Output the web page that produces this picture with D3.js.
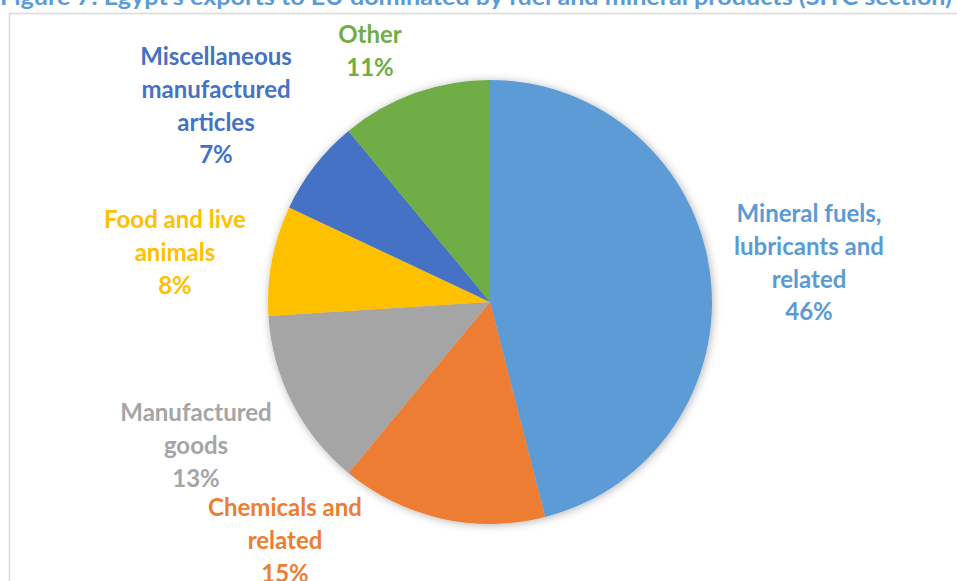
<!DOCTYPE html>
<html>
<head>
<meta charset="utf-8">
<script src="https://cdn.jsdelivr.net/npm/d3@7"></script>
<style>
  html, body { margin: 0; padding: 0; background: #fff; }
  svg { display: block; }
</style>
</head>
<body>
<svg id="chart" width="957" height="581"></svg>
<script>
// SITC sections of exports, share in percent
const categories = [
  "Mineral fuels, lubricants and related",
  "Chemicals and related",
  "Manufactured goods",
  "Food and live animals",
  "Miscellaneous manufactured articles",
  "Other"
];
const shares = [46, 15, 13, 8, 7, 11];

// Wrapped label lines for each section
const labelLines = [
  ["Mineral fuels,", "lubricants and", "related"],
  ["Chemicals and", "related"],
  ["Manufactured", "goods"],
  ["Food and live", "animals"],
  ["Miscellaneous", "manufactured", "articles"],
  ["Other"]
];

const palette = ["#5B9BD5", "#ED7D31", "#A5A5A5", "#FFC000", "#4472C4", "#70AD47"];

// Label anchors (text centre x, first baseline y), in page pixels
const labelAnchor = [
  [809, 222],
  [285, 516],
  [196, 421],
  [175, 228],
  [216, 65],
  [370, 43]
];

const titleText = "Figure 7: Egypt's exports to EU dominated by fuel and mineral products (SITC section)";

const svg = d3.select("#chart");
const cx = 490, cy = 302, radius = 222;
const lineH = 32.8;
const font = "Lato, 'Open Sans', sans-serif";

// Title, clipped at the top of the page
svg.append("text")
  .attr("x", 0)
  .attr("y", 5)
  .attr("textLength", 952)
  .attr("lengthAdjust", "spacingAndGlyphs")
  .attr("font-family", font)
  .attr("font-weight", 700)
  .attr("font-size", 22)
  .attr("fill", "#5B9BD5")
  .text(titleText);

// Chart area frame
svg.append("rect")
  .attr("x", 9.5).attr("y", 13.5)
  .attr("width", 1000).attr("height", 1000)
  .attr("fill", "#fff")
  .attr("stroke", "#D9D9D9")
  .attr("stroke-width", 1.5);

const defs = svg.append("defs");
const shadow = defs.append("filter")
  .attr("id", "soft")
  .attr("x", "-20%").attr("y", "-20%")
  .attr("width", "140%").attr("height", "140%");
shadow.append("feDropShadow")
  .attr("dx", 1).attr("dy", 1)
  .attr("stdDeviation", 4)
  .attr("flood-color", "#000")
  .attr("flood-opacity", 0.3);

const data = categories.map((c, i) => ({
  name: c, value: shares[i], color: palette[i],
  lines: labelLines[i].concat([shares[i] + "%"]),
  anchor: labelAnchor[i]
}));

const pie = d3.pie().value(d => d.value).sort(null);
const arc = d3.arc().innerRadius(0).outerRadius(radius);

const g = svg.append("g")
  .attr("transform", `translate(${cx},${cy})`)
  .attr("filter", "url(#soft)");

g.selectAll("path")
  .data(pie(data))
  .join("path")
  .attr("d", arc)
  .attr("fill", d => d.data.color);

// Data labels
const labels = svg.append("g")
  .attr("font-family", font)
  .attr("font-weight", 700)
  .attr("font-size", 24)
  .attr("text-anchor", "middle");

data.forEach(d => {
  const t = labels.append("text")
    .attr("fill", d.color)
    .attr("x", d.anchor[0])
    .attr("y", d.anchor[1]);
  d.lines.forEach((ln, j) => {
    t.append("tspan")
      .attr("x", d.anchor[0])
      .attr("dy", j === 0 ? 0 : lineH)
      .text(ln);
  });
});
</script>
</body>
</html>
